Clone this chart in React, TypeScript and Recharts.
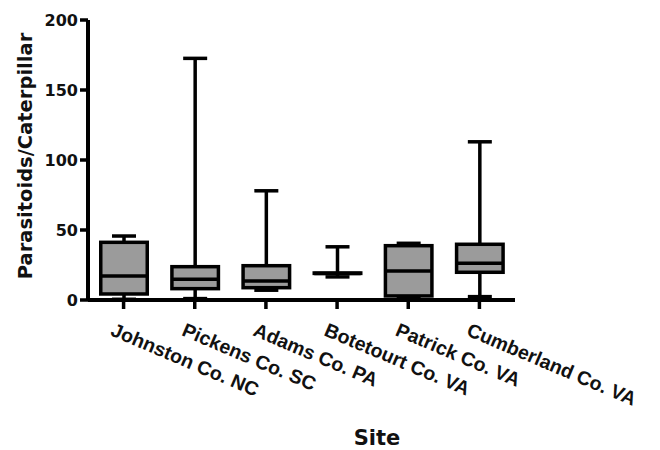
import React from 'react';
import { ComposedChart, Bar, XAxis, YAxis } from 'recharts';

const sites = ['Johnston Co. NC', 'Pickens Co. SC', 'Adams Co. PA', 'Botetourt Co. VA', 'Patrick Co. VA', 'Cumberland Co. VA'];
const mins = [0.5, 1, 7, 16.5, 1.6, 2.4];
const q1s = [4.3, 8.1, 8.8, 19, 2.9, 19.8];
const medians = [17.1, 14.8, 13.6, 19, 20.7, 26.2];
const q3s = [41.2, 23.8, 24.5, 19.3, 38.8, 39.8];
const maxs = [45.7, 172.6, 78, 38, 40.5, 113];
const yTicks = [0, 50, 100, 150, 200];

const data = sites.map((site, i) => ({
  site,
  min: mins[i],
  q1: q1s[i],
  median: medians[i],
  q3: q3s[i],
  max: maxs[i],
  range: [mins[i], maxs[i]],
}));

const FONT = 'DejaVu Sans';
const SW = 3.5;
const FILL = '#9b9b9b';

const BoxShape = (props: any) => {
  const { x, y, width, height, payload } = props;
  if (payload == null) return null;
  const yTop = Math.min(y, y + height);
  const yBot = Math.max(y, y + height);
  const { min, q1, median, q3, max } = payload;
  const span = max - min;
  const py = (v: number) => (span === 0 ? yBot : yBot - ((v - min) / span) * (yBot - yTop));
  const cx = x + width / 2;
  const capHalf = 12;
  const bx = x + SW / 2;
  const bw = width - SW;
  const boxTop = py(q3);
  const boxBot = py(q1);
  return (
    <g>
      <line x1={cx} x2={cx} y1={py(max)} y2={py(min)} stroke="#000" strokeWidth={SW} />
      <line x1={cx - capHalf} x2={cx + capHalf} y1={py(max)} y2={py(max)} stroke="#000" strokeWidth={SW} />
      <line x1={cx - capHalf} x2={cx + capHalf} y1={py(min)} y2={py(min)} stroke="#000" strokeWidth={SW} />
      <rect x={bx} y={boxTop} width={bw} height={Math.max(boxBot - boxTop, 0.01)} fill={FILL} stroke="#000" strokeWidth={SW} />
      <line x1={bx} x2={bx + bw} y1={py(median)} y2={py(median)} stroke="#000" strokeWidth={SW} />
    </g>
  );
};

const XTick = (props: any) => {
  const { x, y, payload } = props;
  return (
    <g transform={`translate(${x - 14},${y + 24}) rotate(23)`}>
      <text x={0} y={0} textAnchor="start" fontFamily="Liberation Sans, Arial, sans-serif" fontWeight="bold" fontSize={19.5} fill="#111">
        {payload.value}
      </text>
    </g>
  );
};

const YLabel = (props: any) => {
  const { viewBox } = props;
  const cx = viewBox.x + 24;
  const cy = viewBox.y + viewBox.height / 2 - 4;
  return (
    <text x={cx} y={cy} transform={`rotate(-90, ${cx}, ${cy})`} textAnchor="middle" fontFamily={FONT} fontWeight="bold" fontSize={19.5} fill="#111">
      Parasitoids/Caterpillar
    </text>
  );
};

const XLabel = (props: any) => {
  const { viewBox } = props;
  const lx = viewBox.x + 289;
  const ly = viewBox.y + 145;
  return (
    <text x={lx} y={ly} textAnchor="middle" fontFamily={FONT} fontWeight="bold" fontSize={21} fill="#111">
      Site
    </text>
  );
};

export default function App() {
  return (
    <div style={{ background: '#fff', width: 652, height: 442 }}>
      <ComposedChart width={652} height={442} data={data} margin={{ top: 12, right: 145, bottom: 0, left: 0 }}>
        <XAxis
          dataKey="site"
          type="category"
          height={150}
          interval={0}
          tick={<XTick />}
          tickSize={9}
          axisLine={{ stroke: '#000', strokeWidth: 4 }}
          tickLine={{ stroke: '#000', strokeWidth: 3.5 }}
          label={<XLabel />}
        />
        <YAxis
          type="number"
          domain={[0, 200]}
          ticks={yTicks}
          width={80}
          tickSize={8}
          interval={0}
          tick={{ fontFamily: FONT, fontWeight: 'bold', fontSize: 16, fill: '#111' }}
          axisLine={{ stroke: '#000', strokeWidth: 4 }}
          tickLine={{ stroke: '#000', strokeWidth: 3.5 }}
          label={<YLabel />}
        />
        <Bar dataKey="range" barSize={50} shape={<BoxShape />} isAnimationActive={false} />
      </ComposedChart>
    </div>
  );
}
